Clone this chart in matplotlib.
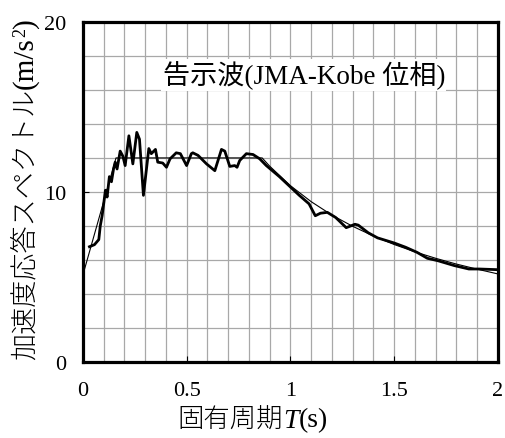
import matplotlib
matplotlib.use("Agg")
import matplotlib.pyplot as plt
from matplotlib.offsetbox import TextArea, HPacker, AnchoredOffsetbox

fonts = ['Liberation Serif', 'Noto Sans CJK JP']
plt.rcParams['font.family'] = fonts

# calculated response spectrum (thick line)
T_resp = [0.032, 0.056, 0.077, 0.084, 0.093, 0.109, 0.117, 0.128, 0.138, 0.148,
          0.156, 0.165, 0.18, 0.193, 0.204, 0.222, 0.241, 0.26, 0.273, 0.292,
          0.318, 0.33, 0.35, 0.361, 0.385, 0.403, 0.42, 0.45, 0.47, 0.5,
          0.523, 0.53, 0.555, 0.596, 0.636, 0.668, 0.684, 0.708, 0.732, 0.743,
          0.756, 0.788, 0.82, 0.852, 0.884, 0.947, 1.043, 1.09, 1.12, 1.145,
          1.178, 1.218, 1.269, 1.28, 1.311, 1.327, 1.375, 1.42, 1.50, 1.555,
          1.61, 1.66, 1.71, 1.79, 1.86, 1.91, 2.0]
Sa_resp = [6.78, 6.9, 7.2, 8.0, 8.6, 10.1, 9.7, 10.9, 10.6, 11.35,
           11.75, 11.35, 12.4, 12.1, 11.55, 13.3, 11.65, 13.5, 13.1, 9.8,
           12.55, 12.25, 12.5, 11.75, 11.7, 11.45, 11.94, 12.3, 12.25, 11.55,
           12.25, 12.3, 12.15, 11.65, 11.25, 12.5, 12.4, 11.5, 11.55, 11.45,
           11.85, 12.25, 12.2, 11.95, 11.55, 10.9, 9.8, 9.3, 8.6, 8.75,
           8.8, 8.5, 7.9, 7.95, 8.1, 8.05, 7.6, 7.3, 7.0, 6.75,
           6.45, 6.1, 5.96, 5.67, 5.47, 5.47, 5.43]

# target spectrum (thin line)
T_target = [0.0, 0.16, 0.864, 0.9, 1.0, 1.1, 1.2, 1.3, 1.4, 1.5, 1.6, 1.7, 1.8, 1.9, 2.0]
Sa_target = [5.1, 12.0, 12.0, 11.52, 10.37, 9.43, 8.64, 7.98, 7.41, 6.91, 6.48, 6.10, 5.76, 5.46, 5.18]

fig = plt.figure(figsize=(5.05, 4.39), dpi=100)
ax = fig.add_axes([0.164, 0.173, 0.822, 0.775])

ax.plot(T_target, Sa_target, color='black', lw=0.8)
ax.plot(T_resp, Sa_resp, color='black', lw=2.0)

ax.set_xlim(0, 2)
ax.set_ylim(0, 20)
ax.set_xticks([0, 0.5, 1, 1.5, 2])
ax.set_xticklabels(['0', '0.5', '1', '1.5', '2'])
ax.set_yticks([0, 10, 20])
ax.set_xticks([i * 0.1 for i in range(21)], minor=True)
ax.set_yticks(range(0, 21, 2), minor=True)
ax.grid(True, which='both', color='#a8a8a8', lw=0.9)
ax.set_axisbelow(True)
ax.tick_params(which='major', direction='in', length=4, labelsize=16, pad=14)
ax.tick_params(which='minor', length=0)
ax.tick_params(axis='y', pad=12)
for s in ax.spines.values():
    s.set_linewidth(2.3)

# y label, pieces chained so the latin part and superscript keep their own fonts
t1 = fig.text(0.05, 0.18, '加速度応答スペクトル', rotation=90, ha='center', va='bottom',
              fontsize=19.5, family=fonts, fontweight='light')
t2 = ax.annotate('(m/s', xy=(0.5, 1), xycoords=t1, rotation=90, ha='center',
                 va='bottom', fontsize=21, annotation_clip=False)
t3 = ax.annotate('2', xy=(0, 1), xycoords=t2, rotation=90, ha='left',
                 va='bottom', fontsize=13, annotation_clip=False)
ax.annotate(')', xy=(0.5, 1), xycoords=(t2, t3), rotation=90, ha='center',
            va='bottom', fontsize=21, annotation_clip=False)

# x label with italic T
parts = [TextArea('固有周期', textprops=dict(fontsize=19, family=fonts, fontweight='light')),
         TextArea('T', textprops=dict(fontsize=20, family=fonts, style='italic')),
         TextArea('(s)', textprops=dict(fontsize=20, family=fonts))]
box = HPacker(children=parts, align='baseline', pad=0, sep=0)
anch = AnchoredOffsetbox(loc='center', child=box, frameon=False,
                         bbox_to_anchor=(0.5, 0.041), bbox_transform=fig.transFigure,
                         borderpad=0, pad=0)
fig.add_artist(anch)

ax.text(1.065, 16.88, '告示波(JMA-Kobe 位相)', fontsize=19.5, ha='center', va='center',
        bbox=dict(facecolor='white', edgecolor='none', pad=1))

fig.savefig('out.png', dpi=100)
